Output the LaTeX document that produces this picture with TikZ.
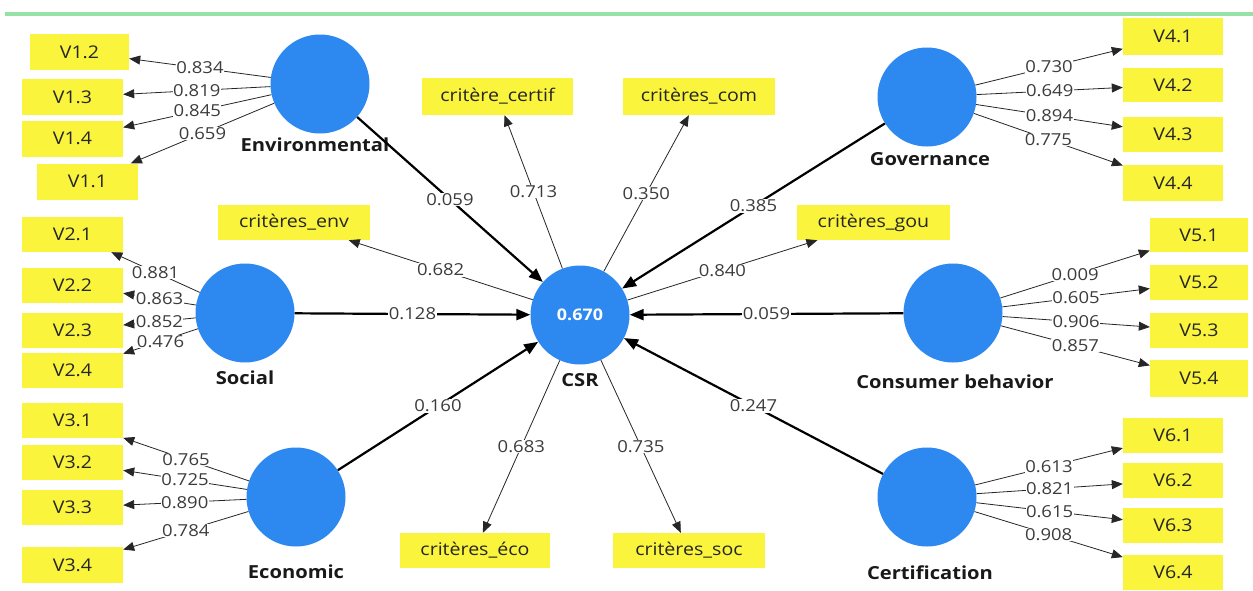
\documentclass[tikz,border=0pt]{standalone}
\usepackage{fontspec}
\setmainfont{Open Sans}[FakeStretch=1.12]
\usetikzlibrary{arrows.meta}
\definecolor{indy}{RGB}{250,245,60}
\definecolor{lvblue}{RGB}{45,137,239}
\definecolor{topgreen}{RGB}{150,225,165}
\definecolor{numgray}{RGB}{60,60,60}
\newcommand{\fsz}[1]{\fontsize{#1}{#1}\selectfont}
\tikzset{
  ind/.style={fill=indy, minimum height=36pt, inner sep=0pt, text=black!85, font=\fsz{17.5}},
  lv/.style={circle, fill=lvblue, minimum size=99pt, inner sep=0pt},
  lvlab/.style={font=\bfseries\fsz{18}, text=black!90},
  load/.style={-{Triangle[length=11pt,width=9pt]}, line width=0.8pt, draw=black!85},
  strpath/.style={-{Triangle[length=14pt,width=11pt]}, line width=2.2pt},
  coef/.style={fill=white, inner sep=0.5pt, font=\fsz{16.5}, text=numgray},
}
\begin{document}
\begin{tikzpicture}[x=1pt,y=-1pt]
\useasboundingbox (0,0) rectangle (1253,590);
\fill[white] (0,0) rectangle (1253,590);
\draw[topgreen, line width=4pt] (5,14) -- (1253,14);

% latent variables
\node[lv] (env) at (320,84) {};
\node[lv] (soc) at (245,313) {};
\node[lv] (eco) at (296,497) {};
\node[lv] (csr) at (580,315) {\bfseries\color{white}\fsz{16}0.670};
\node[lv] (gov) at (927,97) {};
\node[lv] (con) at (953,313) {};
\node[lv] (cer) at (927,497) {};

% latent labels
\node[lvlab] (envl) at (315,145) {Environmental};
\node[lvlab] (socl) at (245,378) {Social};
\node[lvlab] (ecol) at (296,572) {Economic};
\node[lvlab] (csrl) at (580,380) {CSR};
\node[lvlab] (govl) at (930,159) {Governance};
\node[lvlab] (conl) at (955,382) {Consumer behavior};
\node[lvlab] (cerl) at (930,573) {Certification};

% indicators left
\node[ind, minimum width=99pt] (v12) at (79.5,52) {V1.2};
\node[ind, minimum width=101pt] (v13) at (72.5,97) {V1.3};
\node[ind, minimum width=101pt] (v14) at (72.5,138.5) {V1.4};
\node[ind, minimum width=101pt] (v11) at (87.5,181.5) {V1.1};
\node[ind, minimum width=101pt, minimum height=35pt] (v21) at (72.5,234.5) {V2.1};
\node[ind, minimum width=101pt, minimum height=35pt] (v22) at (72.5,285) {V2.2};
\node[ind, minimum width=101pt, minimum height=35pt] (v23) at (72.5,330) {V2.3};
\node[ind, minimum width=101pt, minimum height=35pt] (v24) at (72.5,370.5) {V2.4};
\node[ind, minimum width=101pt, minimum height=35pt] (v31) at (72.5,420.5) {V3.1};
\node[ind, minimum width=101pt, minimum height=35pt] (v32) at (72.5,462.5) {V3.2};
\node[ind, minimum width=101pt, minimum height=35pt] (v33) at (72.5,507.5) {V3.3};
\node[ind, minimum width=101pt] (v34) at (72.5,565) {V3.4};

% indicators right
\node[ind, minimum width=100pt, minimum height=37pt] (v41) at (1173,36.5) {V4.1};
\node[ind, minimum width=100pt, minimum height=34pt] (v42) at (1173,85) {V4.2};
\node[ind, minimum width=100pt, minimum height=35pt] (v43) at (1173,134.5) {V4.3};
\node[ind, minimum width=100pt] (v44) at (1173,183) {V4.4};
\node[ind, minimum width=98pt, minimum height=34pt] (v51) at (1199,235) {V5.1};
\node[ind, minimum width=98pt, minimum height=35pt] (v52) at (1199,282.5) {V5.2};
\node[ind, minimum width=98pt, minimum height=35pt] (v53) at (1199,330.5) {V5.3};
\node[ind, minimum width=98pt, minimum height=37pt] (v54) at (1199,378.5) {V5.4};
\node[ind, minimum width=100pt, minimum height=35pt] (v61) at (1173,435.5) {V6.1};
\node[ind, minimum width=100pt, minimum height=35pt] (v62) at (1173,480.5) {V6.2};
\node[ind, minimum width=100pt, minimum height=35pt] (v63) at (1173,525.5) {V6.3};
\node[ind, minimum width=100pt, minimum height=35pt] (v64) at (1173,572.5) {V6.4};

% CSR indicators
\node[ind, minimum width=151pt, minimum height=37pt] (ccert) at (497.5,96.5) {critère\_certif};
\node[ind, minimum width=152pt, minimum height=37pt] (ccom) at (699,96.5) {critères\_com};
\node[ind, minimum width=152pt, minimum height=35pt] (cenv) at (294,222.5) {critères\_env};
\node[ind, minimum width=153pt, minimum height=35pt] (cgou) at (873.5,222.5) {critères\_gou};
\node[ind, minimum width=150pt, minimum height=35pt] (ceco) at (475,550.5) {critères\_éco};
\node[ind, minimum width=152pt, minimum height=35pt] (csoc) at (689,550.5) {critères\_soc};

% structural paths
\draw[strpath] (env) -- node[coef] {0.059} (csr);
\draw[strpath] (soc) -- node[coef] {0.128} (csr);
\draw[strpath] (eco) -- node[coef] {0.160} (csr);
\draw[strpath] (gov) -- node[coef] {0.385} (csr);
\draw[strpath] (con) -- node[coef] {0.059} (csr);
\draw[strpath] (cer) -- node[coef] {0.247} (csr);

% CSR loadings
\draw[load] (csr) -- node[coef] {0.713} (ccert);
\draw[load] (csr) -- node[coef] {0.350} (ccom);
\draw[load] (csr) -- node[coef] {0.682} (cenv);
\draw[load] (csr) -- node[coef] {0.840} (cgou);
\draw[load] (csr) -- node[coef] {0.683} (ceco);
\draw[load] (csr) -- node[coef] {0.735} (csoc);

% outer loadings
\draw[load] (env) -- node[coef] {0.834} (v12);
\draw[load] (env) -- node[coef] {0.819} (v13);
\draw[load] (env) -- node[coef] {0.845} (v14);
\draw[load] (env) -- node[coef] {0.659} (v11);
\draw[load] (soc) -- node[coef] {0.881} (v21);
\draw[load] (soc) -- node[coef] {0.863} (v22);
\draw[load] (soc) -- node[coef] {0.852} (v23);
\draw[load] (soc) -- node[coef] {0.476} (v24);
\draw[load] (eco) -- node[coef] {0.765} (v31);
\draw[load] (eco) -- node[coef] {0.725} (v32);
\draw[load] (eco) -- node[coef] {0.890} (v33);
\draw[load] (eco) -- node[coef] {0.784} (v34);
\draw[load] (gov) -- node[coef] {0.730} (v41);
\draw[load] (gov) -- node[coef] {0.649} (v42);
\draw[load] (gov) -- node[coef] {0.894} (v43);
\draw[load] (gov) -- node[coef] {0.775} (v44);
\draw[load] (con) -- node[coef] {0.009} (v51);
\draw[load] (con) -- node[coef] {0.605} (v52);
\draw[load] (con) -- node[coef] {0.906} (v53);
\draw[load] (con) -- node[coef] {0.857} (v54);
\draw[load] (cer) -- node[coef] {0.613} (v61);
\draw[load] (cer) -- node[coef] {0.821} (v62);
\draw[load] (cer) -- node[coef] {0.615} (v63);
\draw[load] (cer) -- node[coef] {0.908} (v64);
\end{tikzpicture}
\end{document}
